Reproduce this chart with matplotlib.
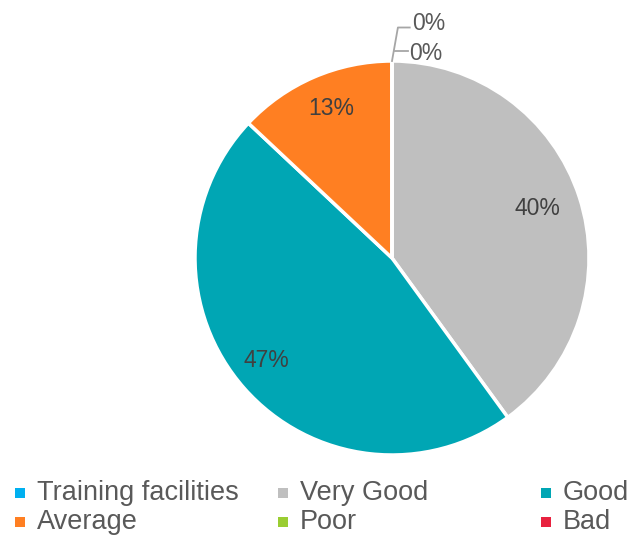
import matplotlib
matplotlib.use("Agg")
import matplotlib.pyplot as plt
from matplotlib.patches import Rectangle

plt.rcParams['font.family'] = ['Liberation Sans', 'DejaVu Sans']

categories = ["Very Good", "Good", "Average", "Poor", "Bad"]
values = [40, 47, 13, 0, 0]
colors = ["#BFBFBF", "#00A6B4", "#FF7F22", "#9ACD32", "#E8223F"]
legend_labels = ["Training facilities", "Very Good", "Good", "Average", "Poor", "Bad"]
legend_colors = ["#00B0F0", "#BFBFBF", "#00A6B4", "#FF7F22", "#9ACD32", "#E8223F"]

W, H = 631, 539
fig = plt.figure(figsize=(W / 100, H / 100), dpi=100)
cx, cy, r = 392, 258, 197
ax = fig.add_axes([(cx - r) / W, (H - cy - r) / H, 2 * r / W, 2 * r / H])

wedges, _ = ax.pie(values, colors=colors, startangle=90, counterclock=False,
                   radius=1.0, center=(0, 0), frame=False,
                   wedgeprops=dict(edgecolor='white', linewidth=2.5))
ax.set_xlim(-1, 1)
ax.set_ylim(-1, 1)
ax.set_aspect('equal')
ax.axis('off')

label_color = "#404040"
label_pos = {0: (0.74, 0.25), 1: (-0.64, -0.52), 2: (-0.31, 0.76)}
total = sum(values)
for i, (x, y) in label_pos.items():
    ax.text(x, y, f"{round(values[i] / total * 100)}%", ha='center', va='center',
            fontsize=16.5, color=label_color)

# zero slices with leader lines
ax.plot([0.0, 0.03, 0.09], [1.0, 1.17, 1.17], color='#A6A6A6', lw=1.3, clip_on=False)
ax.plot([0.015, 0.08], [1.05, 1.05], color='#A6A6A6', lw=1.3, clip_on=False)
ax.text(0.1, 1.19, f"{values[3]}%", ha='left', va='center', fontsize=16.5, color='#595959', clip_on=False)
ax.text(0.085, 1.04, f"{values[4]}%", ha='left', va='center', fontsize=16.5, color='#595959', clip_on=False)

# legend (3 equal-width columns)
col_x = [15, 278, 541]
row_y = [493, 522]
for k, (lab, col) in enumerate(zip(legend_labels, legend_colors)):
    row, c = divmod(k, 3)
    x0 = col_x[c]
    y0 = row_y[row]
    fig.patches.append(Rectangle((x0 / W, (H - y0 - 5) / H), 10 / W, 10 / H,
                                 transform=fig.transFigure, facecolor=col, edgecolor='none'))
    fig.text((x0 + 22) / W, (H - y0) / H, lab, ha='left', va='center',
             fontsize=19.5, color='#595959')

fig.savefig("out.png", dpi=100)
